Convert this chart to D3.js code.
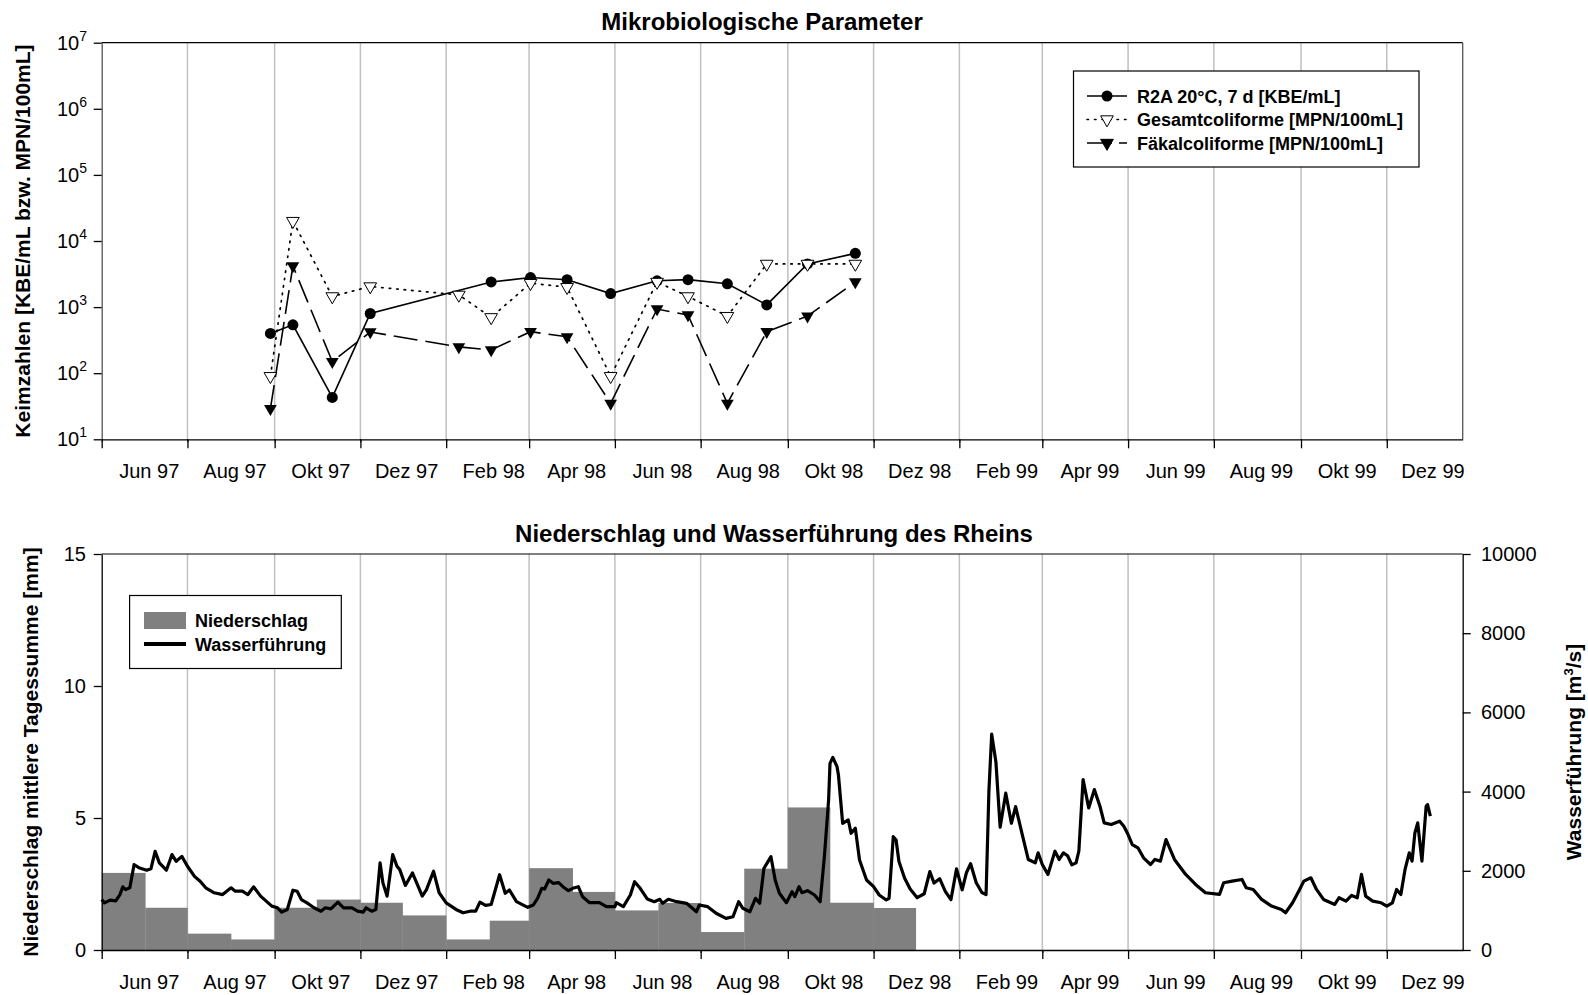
<!DOCTYPE html>
<html><head><meta charset="utf-8">
<script src="https://cdn.jsdelivr.net/npm/d3@7"></script>
<style>
body{margin:0;background:#fff;}
svg{font-family:"Liberation Sans", Arial, sans-serif;}
</style></head><body>
<svg id="chart" width="1588" height="995"></svg>
<script>
// ---------------- DATA ----------------
const r2aDates = ["1997-08-29","1997-09-14","1997-10-12","1997-11-08","1998-02-02","1998-03-02","1998-03-28","1998-04-28","1998-05-31","1998-06-22","1998-07-20","1998-08-17","1998-09-15","1998-10-19"];
const r2aValues = [400,540,43,800,2400,2800,2600,1600,2500,2600,2250,1080,4500,6500];
const coliDates = ["1997-08-29","1997-09-14","1997-10-12","1997-11-08","1998-01-10","1998-02-02","1998-03-02","1998-03-28","1998-04-28","1998-05-31","1998-06-22","1998-07-20","1998-08-17","1998-09-15","1998-10-19"];
const gesamtValues = [90,20000,1450,2050,1530,700,2300,2000,90,2400,1450,730,4500,4500,4500];
const faekalValues = [29,4200,150,420,250,225,425,355,35,935,760,35,425,730,2400];

const precipMonths = ["1997-05","1997-06","1997-07","1997-08","1997-09","1997-10","1997-11","1997-12","1998-01","1998-02","1998-03","1998-04","1998-05","1998-06","1998-07","1998-08","1998-09","1998-10","1998-11"];
const precipValues = [2.92,1.60,0.62,0.40,1.60,1.91,1.79,1.31,0.40,1.11,3.10,2.20,1.50,1.78,0.68,3.08,5.40,1.79,1.59];

// Wasserführung: days since 1997-05-01 and discharge in m3/s
const flowDays = [0,2,6,10,13,15,17,20,23,27,32,35,38,41,46,50,53,57,61,66,70,74,80,86,92,95,100,104,108,113,121,125,128,132,136,139,142,146,151,156,159,163,168,172,178,182,186,188,192,195,198,200,203,207,210,212,216,221,228,231,236,240,245,252,257,262,266,269,273,277,283,287,290,295,303,307,310,313,315,318,321,325,328,332,335,339,342,347,354,359,365,366,371,376,379,383,388,393,397,399,403,409,416,423,425,431,437,444,449,453,456,461,465,468,471,476,479,482,487,491,493,496,498,502,507,511,514,517,518,520,523,524,527,531,533,536,539,544,549,553,558,560,563,565,567,571,575,580,585,589,592,596,600,604,608,612,615,618,622,626,629,631,633,636,639,643,647,650,655,659,664,666,669,673,678,681,684,687,690,693,695,698,702,706,710,713,718,724,727,730,733,737,741,746,749,753,757,763,771,778,785,795,798,804,811,814,819,825,832,839,842,847,852,855,860,864,869,877,880,885,889,893,896,899,904,910,914,918,921,924,927,930,932,934,936,939,942,943,945];
const flowValues = [1275,1190,1260,1240,1400,1595,1525,1570,2155,2070,2015,2050,2490,2200,2015,2410,2240,2365,2115,1860,1735,1570,1445,1400,1570,1485,1485,1400,1595,1360,1108,1066,955,1024,1510,1485,1275,1190,1066,980,1066,1040,1208,1066,1066,980,955,1066,980,1024,2200,1695,1360,2410,2115,2030,1630,1945,1360,1525,1990,1445,1190,1024,940,980,980,1208,1125,1150,1900,1431,1515,1220,1077,1136,1305,1558,1540,1768,1684,1700,1599,1498,1558,1599,1346,1195,1195,1094,1094,1195,1094,1389,1725,1558,1288,1220,1280,1179,1280,1220,1179,967,1136,1094,927,800,841,1220,1053,967,1305,1179,2063,2356,1768,1431,1195,1473,1346,1599,1448,1498,1389,1220,2356,3788,4714,4865,4629,4419,3199,3283,2947,3073,2273,1768,1599,1389,1263,1305,2861,2778,2240,1820,1540,1320,1420,1980,1690,1800,1480,1270,2050,1520,1950,2180,1700,1450,1400,4000,5450,4750,3100,3960,3200,3620,2874,2286,2202,2454,2160,1908,2496,2286,2454,2380,2150,2200,2500,4302,3588,4050,3630,3210,3168,3252,3126,2916,2664,2580,2328,2160,2286,2244,2790,2286,1908,1655,1445,1403,1697,1739,1781,1571,1529,1277,1109,1025,941,1193,1529,1739,1823,1529,1277,1151,1319,1235,1378,1319,1908,1361,1235,1193,1109,1193,1529,1403,2034,2454,2244,2958,3210,2244,3630,3672,3378];

const monthLabels = ["Jun 97","Aug 97","Okt 97","Dez 97","Feb 98","Apr 98","Jun 98","Aug 98","Okt 98","Dez 98","Feb 99","Apr 99","Jun 99","Aug 99","Okt 99","Dez 99"];
const monthLabelDates = ["1997-06-01","1997-08-01","1997-10-01","1997-12-01","1998-02-01","1998-04-01","1998-06-01","1998-08-01","1998-10-01","1998-12-01","1999-02-01","1999-04-01","1999-06-01","1999-08-01","1999-10-01","1999-12-01"];
const logTicks = [1e1,1e2,1e3,1e4,1e5,1e6,1e7];
const logTickExp = ["1","2","3","4","5","6","7"];
const precipTicks = [0,5,10,15];
const flowTicks = [0,2000,4000,6000,8000,10000];

// ---------------- LAYOUT ----------------
const parse = d3.timeParse("%Y-%m-%d");
const parseM = d3.timeParse("%Y-%m");
const startDate = parse("1997-05-01");
const endDate = parse("1999-12-25");
const L = 101.7, R = 1462.7;
const svg = d3.select("#chart");
const x = d3.scaleTime().domain([startDate, endDate]).range([L, R]);

const topT = 42.7, topB = 439.3;
const botT = 554, botB = 950;
const yLog = d3.scaleLog().domain([10, 1e7]).range([topB, topT]);
const yP = d3.scaleLinear().domain([0, 15]).range([botB, botT]);
const yQ = d3.scaleLinear().domain([0, 10000]).range([botB, botT]);

const majorDates = d3.timeMonth.every(2).range(startDate, endDate);
const minorDates = d3.timeMonth.range(startDate, endDate).filter(d => d.getMonth() % 2 === 0);
const gridDates = majorDates.filter(d => +d > +startDate);

function gridBlock(yBottom, yTop) {
  svg.append("g").selectAll("line").data(gridDates).enter().append("line")
    .attr("x1", d => x(d)).attr("x2", d => x(d))
    .attr("y1", yTop).attr("y2", yBottom)
    .attr("stroke", "#c0c0c0").attr("stroke-width", 1.5);
}
function xAxisTicks(yBottom, labelBase) {
  const gMaj = svg.append("g").attr("transform", `translate(0,${yBottom})`)
    .call(d3.axisBottom(x).tickValues(majorDates).tickSize(9).tickSizeOuter(0).tickFormat(""));
  gMaj.select(".domain").attr("stroke", "#000").attr("stroke-width", 1.3);
  gMaj.selectAll(".tick line").attr("stroke", "#000").attr("stroke-width", 1.3);
  const gMin = svg.append("g").attr("transform", `translate(0,${yBottom})`)
    .call(d3.axisBottom(x).tickValues(minorDates).tickSize(3).tickSizeOuter(0).tickFormat(""));
  gMin.select(".domain").remove();
  gMin.selectAll(".tick line").attr("stroke", "#000");
  svg.append("g").selectAll("text").data(monthLabels).enter().append("text")
    .attr("x", (d, i) => x(parse(monthLabelDates[i])) + 4)
    .attr("y", labelBase)
    .attr("text-anchor", "middle")
    .attr("font-size", 20)
    .text(d => d);
}

// ---------------- TOP CHART ----------------
gridBlock(topB, topT);
svg.append("line").attr("x1", L).attr("x2", R).attr("y1", topT).attr("y2", topT).attr("stroke", "#000").attr("stroke-width", 1.2);
svg.append("line").attr("x1", R).attr("x2", R).attr("y1", topT).attr("y2", topB).attr("stroke", "#555").attr("stroke-width", 1.3);
const gyl = svg.append("g").attr("transform", `translate(${L},0)`)
  .call(d3.axisLeft(yLog).tickValues(logTicks).tickSize(8).tickSizeOuter(0).tickFormat(""));
gyl.select(".domain").attr("stroke", "#555").attr("stroke-width", 1.3);
gyl.selectAll(".tick line").attr("stroke", "#000").attr("stroke-width", 1.3);
const lt = svg.append("g").selectAll("text").data(logTicks).enter().append("text")
  .attr("x", 87).attr("y", d => yLog(d) + 7).attr("text-anchor", "end").attr("font-size", 20);
lt.append("tspan").text("10");
lt.append("tspan").attr("dy", -9).attr("font-size", 14).text((d, i) => logTickExp[i]);
xAxisTicks(topB, 478);

const r2a = r2aDates.map((d, i) => ({ x: parse(d), y: r2aValues[i] }));
const ges = coliDates.map((d, i) => ({ x: parse(d), y: gesamtValues[i] }));
const fae = coliDates.map((d, i) => ({ x: parse(d), y: faekalValues[i] }));
const lineT = d3.line().x(d => x(d.x)).y(d => yLog(d.y));

svg.append("path").datum(ges).attr("d", lineT).attr("fill", "none").attr("stroke", "#000")
  .attr("stroke-width", 1.7).attr("stroke-dasharray", "1.5,6").attr("stroke-linecap", "round");
svg.append("path").datum(fae).attr("d", lineT).attr("fill", "none").attr("stroke", "#000")
  .attr("stroke-width", 1.6).attr("stroke-dasharray", "24,8");
svg.append("path").datum(r2a).attr("d", lineT).attr("fill", "none").attr("stroke", "#000")
  .attr("stroke-width", 1.6);

const triDown = d3.symbol().type(d3.symbolTriangle).size(70);
svg.append("g").selectAll("path").data(fae).enter().append("path")
  .attr("d", triDown).attr("transform", d => `translate(${x(d.x)},${yLog(d.y)}) rotate(180)`)
  .attr("fill", "#000");
svg.append("g").selectAll("circle").data(r2a).enter().append("circle")
  .attr("cx", d => x(d.x)).attr("cy", d => yLog(d.y)).attr("r", 5.5).attr("fill", "#000");
svg.append("g").selectAll("path").data(ges).enter().append("path")
  .attr("d", triDown).attr("transform", d => `translate(${x(d.x)},${yLog(d.y)}) rotate(180)`)
  .attr("fill", "#fff").attr("stroke", "#000").attr("stroke-width", 1);

// legend top
const lg = svg.append("g");
lg.append("rect").attr("x", 1073.5).attr("y", 71).attr("width", 345.5).attr("height", 96)
  .attr("fill", "#fff").attr("stroke", "#000").attr("stroke-width", 1.2);
const legRows = [
  { name: "R2A 20°C, 7 d [KBE/mL]", y: 96, dash: null, marker: "circle" },
  { name: "Gesamtcoliforme [MPN/100mL]", y: 119.5, dash: "1.5,6", marker: "open" },
  { name: "Fäkalcoliforme [MPN/100mL]", y: 143, dash: "25,7", marker: "filled" }
];
legRows.forEach(r => {
  const ln = lg.append("line").attr("x1", 1087).attr("x2", 1127).attr("y1", r.y).attr("y2", r.y)
    .attr("stroke", "#000").attr("stroke-width", 1.6);
  if (r.dash) ln.attr("stroke-dasharray", r.dash).attr("stroke-linecap", r.marker === "open" ? "round" : "butt");
  if (r.marker === "circle") lg.append("circle").attr("cx", 1107).attr("cy", r.y).attr("r", 5.5).attr("fill", "#000");
  else lg.append("path").attr("d", triDown).attr("transform", `translate(1107,${r.y}) rotate(180)`)
    .attr("fill", r.marker === "open" ? "#fff" : "#000").attr("stroke", "#000").attr("stroke-width", 1);
  lg.append("text").attr("x", 1137).attr("y", r.y + 6.5).attr("font-size", 18).attr("font-weight", "bold").text(r.name);
});

svg.append("text").attr("x", 762).attr("y", 30).attr("text-anchor", "middle").attr("font-size", 24)
  .attr("font-weight", "bold").text("Mikrobiologische Parameter");
svg.append("text").attr("transform", `translate(29.5,${(topT + topB) / 2}) rotate(-90)`)
  .attr("text-anchor", "middle").attr("font-size", 21).attr("font-weight", "bold")
  .text("Keimzahlen [KBE/mL bzw. MPN/100mL]");

// ---------------- BOTTOM CHART ----------------
gridBlock(botB, botT);
const bars = precipMonths.map((m, i) => ({ s: parseM(m), e: d3.timeMonth.offset(parseM(m), 1), v: precipValues[i] }));
svg.append("g").selectAll("rect").data(bars).enter().append("rect")
  .attr("x", d => x(d.s)).attr("width", d => x(d.e) - x(d.s) + 0.3)
  .attr("y", d => yP(d.v)).attr("height", d => yP(0) - yP(d.v))
  .attr("fill", "#808080");

const flow = flowDays.map((d, i) => ({ x: d3.timeDay.offset(startDate, d), y: flowValues[i] }));
svg.append("path").datum(flow)
  .attr("d", d3.line().x(d => x(d.x)).y(d => yQ(d.y)))
  .attr("fill", "none").attr("stroke", "#000").attr("stroke-width", 3.2).attr("stroke-linejoin", "round");

svg.append("line").attr("x1", L).attr("x2", R).attr("y1", botT).attr("y2", botT).attr("stroke", "#000").attr("stroke-width", 1.2);
const gyp = svg.append("g").attr("transform", `translate(${L},0)`)
  .call(d3.axisLeft(yP).tickValues(precipTicks).tickSize(8).tickSizeOuter(0).tickFormat(""));
gyp.select(".domain").attr("stroke", "#000").attr("stroke-width", 1.3);
gyp.selectAll(".tick line").attr("stroke", "#000").attr("stroke-width", 1.3);
svg.append("g").selectAll("text").data(precipTicks).enter().append("text")
  .attr("x", 86).attr("y", d => yP(d) + 7).attr("text-anchor", "end").attr("font-size", 20).text(d => d);
const gyq = svg.append("g").attr("transform", `translate(${R},0)`)
  .call(d3.axisRight(yQ).tickValues(flowTicks).tickSize(8).tickSizeOuter(0).tickFormat(""));
gyq.select(".domain").attr("stroke", "#000").attr("stroke-width", 1.3);
gyq.selectAll(".tick line").attr("stroke", "#000").attr("stroke-width", 1.3);
svg.append("g").selectAll("text").data(flowTicks).enter().append("text")
  .attr("x", 1481).attr("y", d => yQ(d) + 7).attr("text-anchor", "start").attr("font-size", 20).text(d => d);
xAxisTicks(botB, 989);

// legend bottom
const lb = svg.append("g");
lb.append("rect").attr("x", 129.6).attr("y", 595.5).attr("width", 211.7).attr("height", 73)
  .attr("fill", "#fff").attr("stroke", "#000").attr("stroke-width", 1.2);
lb.append("rect").attr("x", 144).attr("y", 612).attr("width", 42).attr("height", 17).attr("fill", "#808080");
lb.append("line").attr("x1", 144).attr("x2", 186).attr("y1", 644).attr("y2", 644).attr("stroke", "#000").attr("stroke-width", 4);
lb.append("text").attr("x", 195).attr("y", 626.5).attr("font-size", 18).attr("font-weight", "bold").text("Niederschlag");
lb.append("text").attr("x", 195).attr("y", 650.5).attr("font-size", 18).attr("font-weight", "bold").text("Wasserführung");

svg.append("text").attr("x", 774).attr("y", 542).attr("text-anchor", "middle").attr("font-size", 24)
  .attr("font-weight", "bold").text("Niederschlag und Wasserführung des Rheins");
svg.append("text").attr("transform", `translate(38,${(botT + botB) / 2}) rotate(-90)`)
  .attr("text-anchor", "middle").attr("font-size", 21).attr("font-weight", "bold")
  .text("Niederschlag mittlere Tagessumme [mm]");
const rl = svg.append("text").attr("transform", `translate(1580.5,${(botT + botB) / 2}) rotate(-90)`)
  .attr("text-anchor", "middle").attr("font-size", 21).attr("font-weight", "bold");
rl.append("tspan").text("Wasserführung [m");
rl.append("tspan").attr("dy", -8).attr("font-size", 13).text("3");
rl.append("tspan").attr("dy", 8).text("/s]");
</script>
</body></html>
